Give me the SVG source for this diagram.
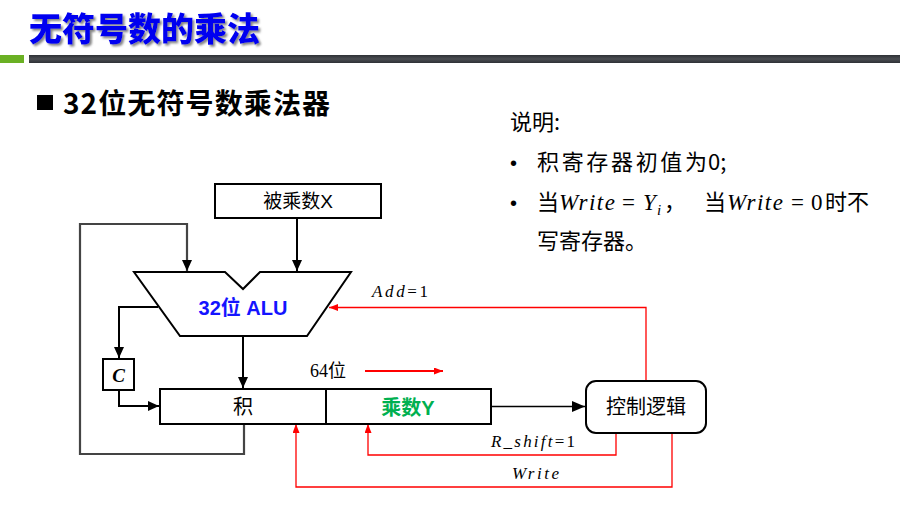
<svg xmlns="http://www.w3.org/2000/svg" width="900" height="511" viewBox="0 0 900 511">
<defs>
<filter id="sh" x="-10%" y="-30%" width="120%" height="160%"><feDropShadow dx="2" dy="2" stdDeviation="1.2" flood-color="#666" flood-opacity="0.8"/></filter>
<linearGradient id="bar" x1="0" y1="0" x2="0" y2="1"><stop offset="0" stop-color="#2e3136"/><stop offset="0.5" stop-color="#4a4d52"/><stop offset="1" stop-color="#2e3136"/></linearGradient>
<marker id="ab" markerUnits="userSpaceOnUse" markerWidth="11" markerHeight="10" refX="11" refY="5" orient="auto"><path d="M0,0 L11,5 L0,10 z" fill="#000"/></marker>
<marker id="at" markerUnits="userSpaceOnUse" markerWidth="13" markerHeight="11" refX="13" refY="5.5" orient="auto"><path d="M0,0 L13,5.5 L0,11 z" fill="#000"/></marker>
<marker id="ar" markerUnits="userSpaceOnUse" markerWidth="9" markerHeight="7" refX="9" refY="3.5" orient="auto"><path d="M0,0 L9,3.5 L0,7 z" fill="#f00"/></marker>
</defs>
<style>
.cjk{font-family:"Noto Sans CJK SC","Noto Sans",sans-serif}
.lbl{font-family:"Liberation Sans","Noto Sans CJK SC",sans-serif}
.m{font-family:"Liberation Serif","DejaVu Serif",serif}
.it{font-style:italic}
.box{fill:#fff;stroke:#000;stroke-width:2}
.blk{fill:none;stroke:#000;stroke-width:2}
.red{fill:none;stroke:#f00;stroke-width:1.3}
.bul{font-family:"Liberation Sans",sans-serif;font-size:20px}
</style>
<rect width="900" height="511" fill="#fff"/>
<g id="title">
<text x="29" y="41" class="cjk" font-size="33" font-weight="900" fill="#0000f0" filter="url(#sh)">无符号数的乘法</text>
<rect x="0" y="55" width="24" height="8" fill="#6ab023"/>
<rect x="29" y="55" width="871" height="8" fill="url(#bar)"/>
</g>
<g id="heading">
<rect x="37" y="95" width="16" height="15" fill="#000"/>
<text x="63" y="114" class="cjk" font-size="28" font-weight="bold" fill="#000" textLength="267" lengthAdjust="spacing">32位无符号数乘法器</text>
</g>
<g id="notes" class="cjk" font-size="22" fill="#000">
<text x="510" y="130">说明:</text>
<text x="510" y="170" class="bul">•</text>
<text x="537" y="170"><tspan textLength="170" lengthAdjust="spacing">积寄存器初值为</tspan><tspan x="708">0;</tspan></text>
<text x="510" y="210" class="bul">•</text>
<text y="210"><tspan x="537">当</tspan><tspan x="559" class="m it" font-size="23" textLength="56" lengthAdjust="spacing">Write</tspan><tspan x="622" class="m" font-size="23">=</tspan><tspan x="643" class="m it" font-size="23">Y</tspan><tspan x="657" dy="5" class="m it" font-size="15">i</tspan><tspan x="664" dy="-5">，</tspan><tspan x="704">当</tspan><tspan x="727" class="m it" font-size="23" textLength="56" lengthAdjust="spacing">Write</tspan><tspan x="791" class="m" font-size="23">=</tspan><tspan x="811" class="m" font-size="23">0</tspan><tspan x="825">时不</tspan></text>
<text x="537" y="249">写寄存器。</text>
</g>
<g id="connectors">
<path d="M244,424 V454 H80 V224 H187 V271" fill="none" stroke="#444" stroke-width="2.2" marker-end="url(#ab)"/>
<path d="M297,219 V271" class="blk" marker-end="url(#ab)"/>
<path d="M158,307 H119 V358" class="blk" marker-end="url(#ab)"/>
<path d="M119,390 V406 H159" class="blk" marker-end="url(#ab)"/>
<path d="M243,336 V388" class="blk" marker-end="url(#ab)"/>
<path d="M491,406.5 H585" fill="none" stroke="#000" stroke-width="1.3" marker-end="url(#at)"/>
<path d="M646,381 V307.5 H329" class="red" marker-end="url(#ar)"/>
<path d="M616,433 V455 H368 V424" class="red" marker-end="url(#ar)"/>
<path d="M672,433 V487 H296 V424" class="red" marker-end="url(#ar)"/>
<path d="M365,371 H443" fill="none" stroke="#f00" stroke-width="2" marker-end="url(#ar)"/>
<text x="372" y="297" class="m" font-size="17" textLength="56" lengthAdjust="spacing"><tspan class="it">Add</tspan>=1</text>
<text x="491" y="447" class="m" font-size="17" textLength="84" lengthAdjust="spacing"><tspan class="it">R_shift</tspan>=1</text>
<text x="512" y="479" class="m it" font-size="17" textLength="47" lengthAdjust="spacing">Write</text>
<text x="310" y="377" class="m" font-size="18">64<tspan class="cjk">位</tspan></text>
</g>
<g id="multiplicand">
<rect x="215" y="184" width="166" height="34" class="box"/>
<text x="298" y="208" class="lbl" font-size="19" text-anchor="middle">被乘数X</text>
</g>
<g id="alu">
<polygon points="134,272 225,272 243,289 260,272 351,272 307,336 180,336" class="box"/>
<text x="243" y="315" class="lbl" font-size="20" font-weight="bold" fill="#1414ff" text-anchor="middle">32位 ALU</text>
</g>
<g id="carry">
<rect x="103" y="359" width="31" height="31" class="box"/>
<text x="118.5" y="382" class="m" font-size="19" font-weight="bold" font-style="italic" text-anchor="middle">C</text>
</g>
<g id="register">
<rect x="160" y="389" width="331" height="35" class="box"/>
<line x1="326" y1="389" x2="326" y2="424" stroke="#000" stroke-width="2"/>
<text x="243" y="414" class="cjk" font-size="20" text-anchor="middle">积</text>
<text x="408" y="415" class="lbl" font-size="20" font-weight="bold" fill="#00b050" text-anchor="middle">乘数Y</text>
</g>
<g id="control">
<rect x="586" y="381" width="120" height="52" rx="10" class="box"/>
<text x="646" y="414" class="cjk" font-size="20" text-anchor="middle">控制逻辑</text>
</g>
</svg>
